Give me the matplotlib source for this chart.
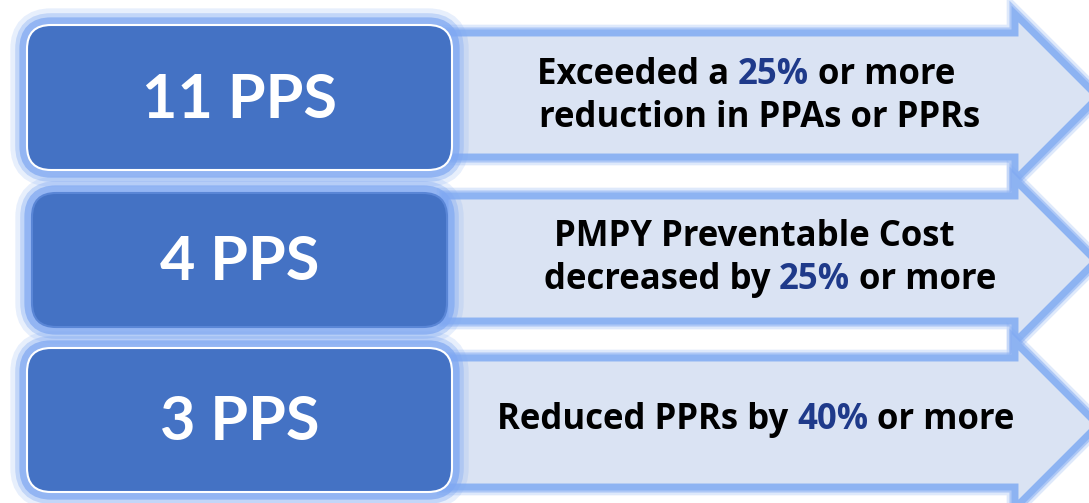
import matplotlib
matplotlib.use("Agg")
import matplotlib.pyplot as plt
from matplotlib.patches import FancyBboxPatch, Polygon
import matplotlib.patheffects as pe

# ---- data ----
counts = ["11 PPS", "4 PPS", "3 PPS"]
descriptions = [
    [[("Exceeded a ", "k"), ("25%", "b"), (" or more", "k")],
     [("reduction in PPAs or PPRs", "k")]],
    [[("PMPY Preventable Cost", "k")],
     [("decreased by ", "k"), ("25%", "b"), (" or more", "k")]],
    [[("Reduced PPRs by ", "k"), ("40%", "b"), (" or more", "k")]],
]

# ---- layout (pixel coords) ----
W, H = 1089, 503
fig = plt.figure(figsize=(W / 100, H / 100), dpi=100)
ax = fig.add_axes([0, 0, 1, 1])
ax.set_xlim(0, W)
ax.set_ylim(H, 0)
ax.axis("off")

BOX_BLUE = "#4472C4"
ARROW_FILL = "#DAE3F3"
GLOW = "#7FA8F2"
DARK_BLUE = "#1F3A8A"
RFONT = "Open Sans"
LFONT = "Lato"

boxes = [(27, 25, 452, 170), (32, 193, 447, 327), (27, 348, 452, 492)]
arrows = [  # body top, body bottom, head top, head bottom
    (33, 157, 14, 180),
    (196, 321, 180, 342),
    (358, 487, 342, 508),
]
line_cx = [[746, 760], [754, 770], [756]]
line_y = [[75, 118], [237, 280], [420]]

glow_fx = [
    pe.Stroke(linewidth=24, foreground=GLOW, alpha=0.18),
    pe.Stroke(linewidth=17, foreground=GLOW, alpha=0.35),
    pe.Stroke(linewidth=11, foreground=GLOW, alpha=0.7),
    pe.Normal(),
]

# arrows
HEAD_X = 1015
for (bt, bb, ht, hb) in arrows:
    mid = (ht + hb) / 2
    pts = [(445, bt), (HEAD_X, bt), (HEAD_X, ht), (HEAD_X + (hb - ht) / 2, mid),
           (HEAD_X, hb), (HEAD_X, bb), (445, bb)]
    poly = Polygon(pts, closed=True, facecolor=ARROW_FILL, edgecolor="#8DB3F2",
                   linewidth=5, joinstyle="miter", zorder=1)
    poly.set_path_effects([
        pe.Stroke(linewidth=12, foreground=GLOW, alpha=0.25),
        pe.Stroke(linewidth=8, foreground=GLOW, alpha=0.5),
        pe.Normal(),
    ])
    ax.add_patch(poly)

# boxes
for i, (x0, y0, x1, y1) in enumerate(boxes):
    p = FancyBboxPatch((x0, y0), x1 - x0, y1 - y0,
                       boxstyle="round,pad=0,rounding_size=24",
                       facecolor=BOX_BLUE,
                       edgecolor="white" if i != 1 else "#5A86D6",
                       linewidth=1.5, zorder=3)
    p.set_path_effects(glow_fx)
    ax.add_patch(p)
    ax.text((x0 + x1) / 2, (y0 + y1) / 2 + 2, counts[i], color="white",
            fontsize=44, fontweight="bold", family=LFONT,
            ha="center", va="center", zorder=4)

# description text with coloured segments
fig.canvas.draw()
renderer = fig.canvas.get_renderer()
to_data = ax.transData.inverted()
FS = 25


def width_of(s):
    if not s:
        return 0
    t = ax.text(0, 0, s, fontsize=FS, fontweight="bold", family=RFONT)
    w = t.get_window_extent(renderer).width
    t.remove()
    return w


for i, lines in enumerate(descriptions):
    for j, segs in enumerate(lines):
        full = "".join(s for s, _ in segs)
        total = width_of(full)
        x_start = ax.transData.transform((line_cx[i][j], 0))[0] - total / 2
        acc = ""
        for s, c in segs:
            xd = x_start + width_of(acc)
            xdata = to_data.transform((xd, 0))[0]
            ax.text(xdata, line_y[i][j], s, fontsize=FS, fontweight="bold",
                    family=RFONT, color="black" if c == "k" else DARK_BLUE,
                    ha="left", va="center", zorder=5)
            acc += s

fig.savefig("out.png", dpi=100)
